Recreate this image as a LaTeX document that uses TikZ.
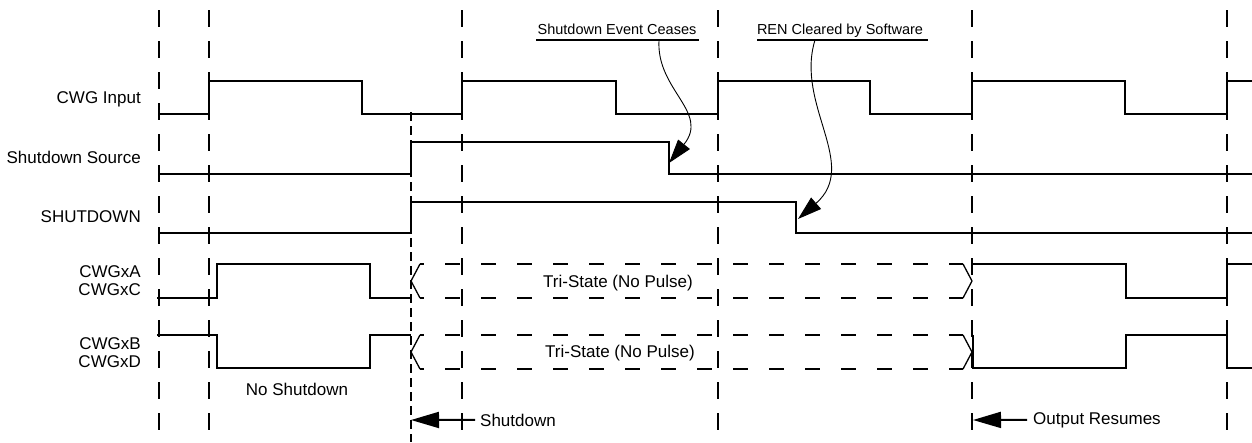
\documentclass[tikz,border=0pt]{standalone}
\usepackage{fontspec}
\setmainfont{Liberation Sans}
\usetikzlibrary{arrows.meta,positioning}
\tikzset{
  every node/.style={font=\fontsize{17}{18}\selectfont},
  % --- waveforms
  sig/.style     = {line width=2.1pt},
  tri/.style     = {line width=2.1pt, dash pattern=on 15pt off 21pt, dash phase=11pt},
  triedge/.style = {line width=1.3pt},
  % --- time marks
  tmark/.style   = {line width=2.1pt, dash pattern=on 17pt off 14pt},
  tthin/.style   = {line width=1.4pt, dash pattern=on 9pt off 5pt},
  % --- text
  lbl/.style     = {anchor=east, align=right, inner sep=0pt},
  note/.style    = {inner sep=0pt},
  callout/.style = {inner sep=0pt, font=\fontsize{14.5}{16}\selectfont},
  uline/.style   = {line width=1.3pt},
  % --- pointers
  curve/.style   = {line width=0.9pt, -{Triangle[length=24pt,width=15pt]}},
  ptr/.style     = {line width=2pt, -{Triangle[length=28pt,width=16pt]}},
}

\begin{document}
\begin{tikzpicture}[x=1pt,y=-1pt]
  \useasboundingbox (0,0) rectangle (1252,442);
  % time marks
  \foreach \t in {159,209,462,718,972,1227}
    \draw[tmark] (\t,10) -- (\t,442);
  \draw[tthin] (411,112) -- (411,442);

  % signal names
  \node[lbl, anchor=base east] (in)   at (141,103) {CWG Input};
  \node[lbl, anchor=base east] (src)  at (141,163) {Shutdown Source};
  \node[lbl, anchor=base east] (shdn) at (141,222) {SHUTDOWN};
  \node[lbl] (ac) at (141,281) {CWGxA\\CWGxC};
  \node[lbl] (bd) at (141,353) {CWGxB\\CWGxD};

  % waveforms
  \draw[sig] (159,114) -- (209,114) -- (209,81) -- (362,81) -- (362,114) -- (462,114)
    -- (462,81) -- (616,81) -- (616,114) -- (718,114) -- (718,81) -- (870,81) -- (870,114)
    -- (972,114) -- (972,81) -- (1125,81) -- (1125,114) -- (1227,114) -- (1227,81) -- (1252,81);
  \draw[sig] (159,174) -- (411,174) -- (411,142) -- (669,142) -- (669,174) -- (1252,174);
  \draw[sig] (159,233) -- (411,233) -- (411,202) -- (796,202) -- (796,233) -- (1252,233);
  \draw[sig] (157,298) -- (217,298) -- (217,264) -- (370,264) -- (370,298) -- (411,298);
  \draw[sig] (972,264) -- (1126,264) -- (1126,298) -- (1227,298) -- (1227,264) -- (1252,264);
  \draw[sig] (157,335) -- (217,335) -- (217,368) -- (370,368) -- (370,335) -- (411,335);
  \draw[sig] (973,335) -- (973,368) -- (1126,368) -- (1126,335) -- (1227,335) -- (1227,368) -- (1252,368);

  % tri-state
  \foreach \y in {281,352}{
    \draw[triedge] (420,\y-17) -- (411,\y) -- (420,\y+17);
    \draw[triedge] (963,\y-17) -- (972,\y) -- (963,\y+17);
    \draw[tri] (420,\y-17) -- (963,\y-17);
    \draw[tri] (420,\y+17) -- (963,\y+17);
  }
  \node[note, anchor=base] (tri1) at (618,287) {Tri-State (No Pulse)};
  \node[note, anchor=base] (tri2) at (620,357) {Tri-State (No Pulse)};
  \node[note, anchor=base] (nosd) at (297,395) {No Shutdown};

  % events
  \node[note, anchor=base west] (sd)  at (480,426) {Shutdown};
  \node[note, anchor=base west] (res) at (1033,424) {Output Resumes};
  \coordinate (sdtip)  at (411,420);
  \coordinate (restip) at (973,420);
  \draw[ptr] ([xshift=-5pt]sd.west) -- (sdtip);
  \draw[ptr] ([xshift=-6pt]res.west) -- (restip);

  % callouts
  \node[callout, anchor=base] (cease) at (617,34) {Shutdown Event Ceases};
  \node[callout, anchor=base] (ren)   at (840,34) {REN Cleared by Software};
  \draw[uline] (536,40) -- (699,40);
  \draw[uline] (757,40) -- (928,40);
  \coordinate (ceaseA) at (659,40);
  \coordinate (ceaseB) at (669,163);
  \coordinate (renA) at (815,40);
  \coordinate (renB) at (798,219);
  \draw[curve] (ceaseA) .. controls (656,90) and (710,112) .. (ceaseB);
  \draw[curve] (renA) .. controls (795,105) and (860,165) .. (renB);
\end{tikzpicture}
\end{document}
